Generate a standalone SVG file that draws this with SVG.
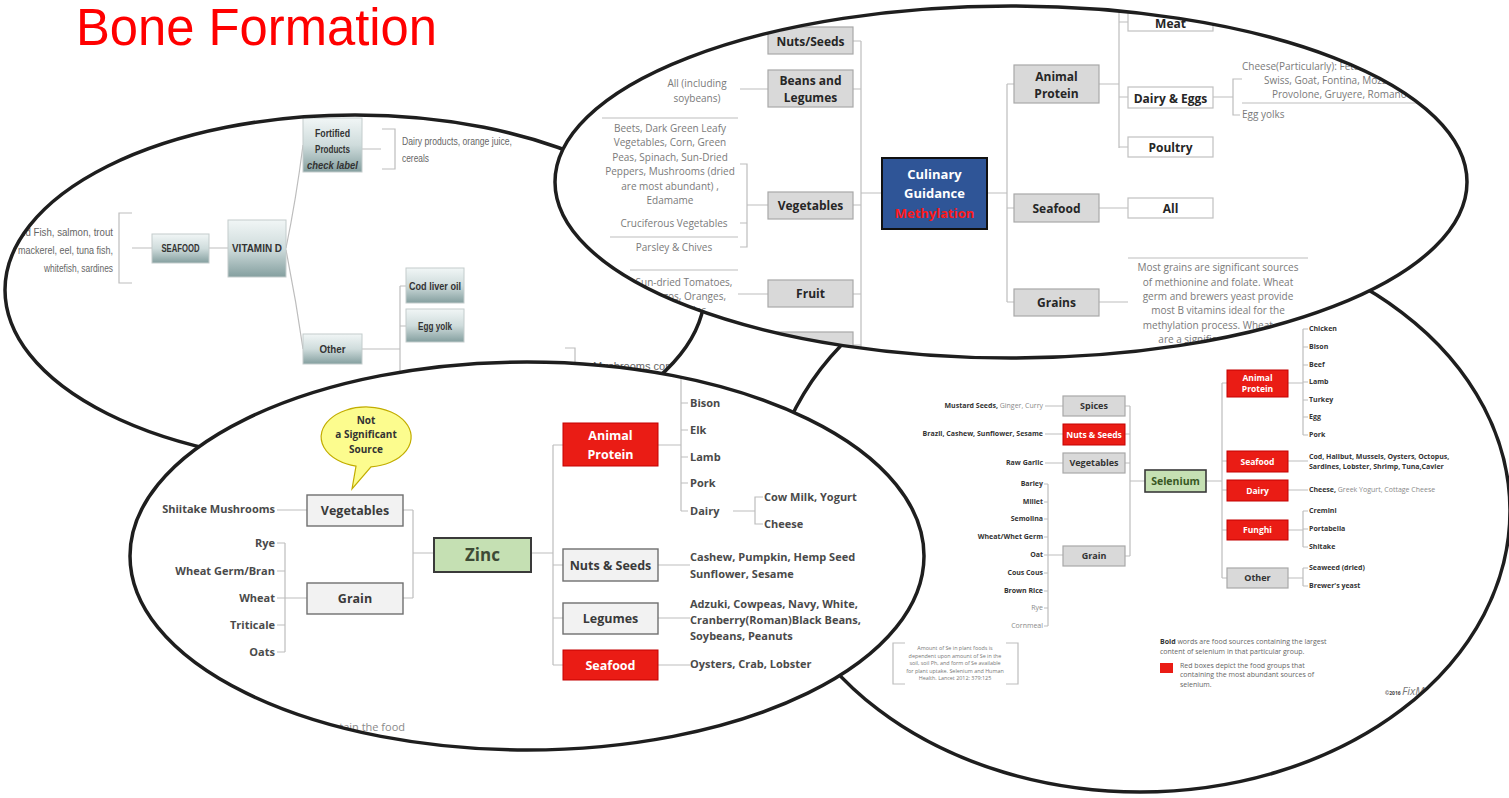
<svg xmlns="http://www.w3.org/2000/svg" width="1509" height="798" viewBox="0 0 1509 798">
<style>
  text{font-family:"Open Sans","Liberation Sans",sans-serif}
  .bg{fill:#fff}
  .rim{fill:none;stroke:#1e1e1e;stroke-width:3.5}
  .ln{fill:none;stroke:#bdbdbd;stroke-width:1.2}
  .tb{fill:url(#teal);stroke:#c3cccc;stroke-width:1}
  .vt{font-family:"Liberation Sans Narrow","Liberation Sans",sans-serif;font-weight:700;fill:#333;text-anchor:middle;font-size:11px}
  .vg{font-family:"Liberation Sans Narrow","Liberation Sans",sans-serif;fill:#666;font-size:11px}
  .gb{fill:#d9d9d9;stroke:#a8a8a8;stroke-width:1.2}
  .wb{fill:#fff;stroke:#c0c0c0;stroke-width:1.2}
  .bt{font-weight:700;fill:#262626;text-anchor:middle;font-size:12px}
  .gt{fill:#7a7a7a;font-size:10px;text-anchor:middle}
  .zb{fill:#f2f2f2;stroke:#6f6f6f;stroke-width:1.4}
  .rb{fill:#ea1c15;stroke:#c40000;stroke-width:1}
  .zt{font-weight:700;fill:#4a4a4a;font-size:11px}
  .zbt{font-weight:700;fill:#3a3a3a;font-size:12.5px;text-anchor:middle}
  .wt{font-weight:700;fill:#fff;text-anchor:middle}
  .st{font-weight:700;fill:#333;font-size:7px}
  .sg{fill:#8a8a8a;font-size:7px}
  .sbt{font-weight:700;fill:#333;text-anchor:middle;font-size:9px}
</style>
<defs>
  <linearGradient id="teal" x1="0" y1="0" x2="0" y2="1">
    <stop offset="0" stop-color="#f1f6f6"/>
    <stop offset="0.5" stop-color="#cfdcdc"/>
    <stop offset="1" stop-color="#849f9f"/>
  </linearGradient>
  <clipPath id="c1"><ellipse cx="355" cy="290" rx="350" ry="175"/></clipPath>
  <clipPath id="c2"><ellipse cx="1011" cy="182" rx="456" ry="176"/></clipPath>
  <clipPath id="c3"><ellipse cx="527" cy="556" rx="397" ry="194"/></clipPath>
  <clipPath id="c4"><ellipse cx="1140" cy="511" rx="370" ry="281"/></clipPath>
</defs>

<text id="title" x="76" y="45" font-size="51" fill="#ff0000" textLength="361" lengthAdjust="spacingAndGlyphs" style="font-family:'Liberation Sans',sans-serif">Bone Formation</text>

<!-- Vitamin D map -->
<g id="vitamin-d-map">
  <ellipse class="bg" cx="355" cy="290" rx="350" ry="175"/>
  <g clip-path="url(#c1)">
    <g id="vd-connectors" class="ln">
      <path d="M132,213H119V283H132M132,248H152M209,248H228M286,248Q296,200 303,145M286,250Q296,300 303,349M362,149H381M382,129H395V169H382M362,349H400M400,286V430M400,286H406M400,326H406M565,348H575V390"/>
    </g>
    <g id="vd-fish">
      <text class="vg" x="113" y="236" text-anchor="end" textLength="102" lengthAdjust="spacingAndGlyphs">Cold Fish, salmon, trout</text>
      <text class="vg" x="113" y="254" text-anchor="end" textLength="95" lengthAdjust="spacingAndGlyphs">mackerel, eel,  tuna fish,</text>
      <text class="vg" x="113" y="272" text-anchor="end" textLength="69" lengthAdjust="spacingAndGlyphs">whitefish, sardines</text>
    </g>
    <g id="vd-seafood"><rect class="tb" x="152" y="234" width="57" height="29"/><text class="vt" x="180.5" y="252" textLength="38" lengthAdjust="spacingAndGlyphs">SEAFOOD</text></g>
    <g id="vd-vitamin"><rect class="tb" x="228" y="220" width="58" height="57"/><text class="vt" x="257" y="252" textLength="50" lengthAdjust="spacingAndGlyphs">VITAMIN D</text></g>
    <g id="vd-fortified"><rect class="tb" x="303" y="118" width="59" height="54"/>
      <text class="vt" x="332.5" y="137" textLength="35" lengthAdjust="spacingAndGlyphs">Fortified</text>
      <text class="vt" x="332.5" y="153" textLength="35" lengthAdjust="spacingAndGlyphs">Products</text>
      <text class="vt" x="332.5" y="169" font-style="italic" textLength="51" lengthAdjust="spacingAndGlyphs">check label</text></g>
    <g id="vd-dairy"><text class="vg" x="402" y="145" textLength="110" lengthAdjust="spacingAndGlyphs">Dairy products, orange juice,</text><text class="vg" x="402" y="162" textLength="27" lengthAdjust="spacingAndGlyphs">cereals</text></g>
    <g id="vd-other"><rect class="tb" x="303" y="334" width="59" height="30"/><text class="vt" x="332.5" y="353" textLength="26" lengthAdjust="spacingAndGlyphs">Other</text></g>
    <g id="vd-cod"><rect class="tb" x="406" y="268" width="58" height="35"/><text class="vt" x="435" y="290" textLength="52" lengthAdjust="spacingAndGlyphs">Cod liver oil</text></g>
    <g id="vd-egg"><rect class="tb" x="406" y="309" width="58" height="33"/><text class="vt" x="435" y="330" textLength="34" lengthAdjust="spacingAndGlyphs">Egg yolk</text></g>
    <g id="vd-mushroom"><text class="vg" x="593" y="370">Mushrooms contain vitamin D</text></g>
  </g>
  <ellipse class="rim" cx="355" cy="290" rx="350" ry="175"/>
</g>

<!-- Selenium map -->
<g id="selenium-map">
  <ellipse class="bg" cx="1140" cy="511" rx="370" ry="281"/>
  <g clip-path="url(#c4)">
    <g id="se-connectors" class="ln">
      <path d="M1045,406H1063M1045,434H1063M1045,463H1063M1044,484H1048M1044,502H1048M1044,519H1048M1044,537H1048M1044,555H1048M1044,573H1048M1044,591H1048M1044,608H1048M1044,626H1048M1048,484V626M1048,555H1063"/>
      <path d="M1125,406H1130M1125,434H1130M1125,463H1130M1125,556H1130M1130,406V556M1130,481H1145"/>
      <path d="M1206,481H1222M1222,383V578M1222,383H1227M1222,461H1227M1222,490H1227M1222,530H1227M1222,578H1227"/>
      <path d="M1288,383H1303M1303,329V435M1303,329H1308M1303,347H1308M1303,365H1308M1303,382H1308M1303,400H1308M1303,417H1308M1303,435H1308"/>
      <path d="M1288,461H1308M1288,490H1308M1288,530H1303M1303,511V547M1303,511H1308M1303,529H1308M1303,547H1308M1288,578H1303M1303,568V586M1303,568H1308M1303,586H1308"/>
      <path d="M905,643H893V684H905M1006,643H1018V684H1006"/>
    </g>
    <g id="se-left-items" text-anchor="end">
      <text class="st" x="1043" y="408">Mustard Seeds,<tspan class="sg" style="font-weight:400"> Ginger, Curry</tspan></text>
      <text class="st" x="1043" y="436">Brazil, Cashew, Sunflower, Sesame</text>
      <text class="st" x="1043" y="465">Raw Garlic</text>
      <text class="st" x="1043" y="486">Barley</text>
      <text class="st" x="1043" y="504">Millet</text>
      <text class="st" x="1043" y="521">Semolina</text>
      <text class="st" x="1043" y="539">Wheat/Whet Germ</text>
      <text class="st" x="1043" y="557">Oat</text>
      <text class="st" x="1043" y="575">Cous Cous</text>
      <text class="st" x="1043" y="593">Brown Rice</text>
      <text class="sg" x="1043" y="610">Rye</text>
      <text class="sg" x="1043" y="628">Cornmeal</text>
    </g>
    <g id="se-spices"><rect class="gb" x="1063" y="396" width="62" height="20"/><text class="sbt" x="1094" y="409">Spices</text></g>
    <g id="se-nuts"><rect class="rb" x="1063" y="424" width="62" height="21"/><text class="wt" x="1094" y="438" font-size="8.5">Nuts &amp; Seeds</text></g>
    <g id="se-veg"><rect class="gb" x="1063" y="453" width="62" height="20"/><text class="sbt" x="1094" y="466">Vegetables</text></g>
    <g id="se-grain"><rect class="gb" x="1063" y="546" width="62" height="20"/><text class="sbt" x="1094" y="559">Grain</text></g>
    <g id="se-selenium"><rect x="1145" y="470" width="61" height="22" fill="#c5e0b3" stroke="#3a3a3a" stroke-width="1.6"/><text x="1175.5" y="485" text-anchor="middle" font-weight="700" font-size="10.5" fill="#385723">Selenium</text></g>
    <g id="se-animal"><rect class="rb" x="1227" y="370" width="61" height="27"/><text class="wt" x="1257.5" y="381" font-size="8.5">Animal</text><text class="wt" x="1257.5" y="392" font-size="8.5">Protein</text></g>
    <g id="se-seafood"><rect class="rb" x="1227" y="451" width="61" height="21"/><text class="wt" x="1257.5" y="465" font-size="8.5">Seafood</text></g>
    <g id="se-dairy"><rect class="rb" x="1227" y="480" width="61" height="21"/><text class="wt" x="1257.5" y="494" font-size="8.5">Dairy</text></g>
    <g id="se-funghi"><rect class="rb" x="1227" y="520" width="61" height="20"/><text class="wt" x="1257.5" y="533" font-size="8.5">Funghi</text></g>
    <g id="se-other"><rect class="gb" x="1227" y="568" width="61" height="20"/><text class="sbt" x="1257.5" y="581" font-size="8.5">Other</text></g>
    <g id="se-right-items">
      <text class="st" x="1309" y="331">Chicken</text>
      <text class="st" x="1309" y="349">Bison</text>
      <text class="st" x="1309" y="367">Beef</text>
      <text class="st" x="1309" y="384">Lamb</text>
      <text class="st" x="1309" y="402">Turkey</text>
      <text class="st" x="1309" y="419">Egg</text>
      <text class="st" x="1309" y="437">Pork</text>
      <text class="st" x="1309" y="459">Cod, Halibut, Mussels, Oysters, Octopus,</text>
      <text class="st" x="1309" y="469">Sardines, Lobster, Shrimp, Tuna,Cavier</text>
      <text class="st" x="1309" y="492">Cheese,<tspan class="sg" style="font-weight:400"> Greek Yogurt, Cottage Cheese</tspan></text>
      <text class="st" x="1309" y="513">Cremini</text>
      <text class="st" x="1309" y="531">Portabella</text>
      <text class="st" x="1309" y="549">Shitake</text>
      <text class="st" x="1309" y="570">Seaweed (dried)</text>
      <text class="st" x="1309" y="588">Brewer's yeast</text>
    </g>
    <g id="se-note" fill="#777" font-size="5.4" text-anchor="middle">
      <text x="955" y="650">Amount of Se in plant foods is</text>
      <text x="955" y="657.5">dependent upon amount of Se in the</text>
      <text x="955" y="665">soil, soil Ph, and form of Se available</text>
      <text x="955" y="672.5">for plant uptake. Selenium and Human</text>
      <text x="955" y="680">Health. Lancet 2012: 379:125</text>
    </g>
    <g id="se-legend" fill="#666" font-size="7">
      <text x="1160" y="644"><tspan font-weight="700" fill="#333">Bold</tspan> words are food sources containing the largest</text>
      <text x="1160" y="654">content of selenium in that particular group.</text>
      <rect x="1160" y="663" width="13" height="10" fill="#ea1c15"/>
      <text x="1180" y="668">Red boxes depict the food groups that</text>
      <text x="1180" y="677">containing the most abundant sources of</text>
      <text x="1180" y="687">selenium.</text>
      <text x="1385" y="695" font-size="5" font-weight="700" fill="#444">©2016 <tspan font-size="11" font-weight="400" font-style="italic" fill="#777">FixMed</tspan></text>
    </g>
  </g>
  <ellipse class="rim" cx="1140" cy="511" rx="370" ry="281"/>
</g>

<!-- Methylation map -->
<g id="methylation-map">
  <ellipse class="bg" cx="1011" cy="182" rx="456" ry="176"/>
  <g clip-path="url(#c2)">
    <g id="me-connectors" class="ln">
      <path d="M853,41H861M853,89H861M853,205H861M853,294H861M853,345H861M861,41V360M861,193H882"/>
      <path d="M740,89H768M602,118H738M610,237H738M630,270H738M740,164H747V247H740M740,223H747M747,205H768M738,294H768"/>
      <path d="M987,193H1007M1007,84V302M1007,84H1014M1007,208H1014M1007,302H1014"/>
      <path d="M1099,84H1119M1119,10V148M1119,22H1128M1119,97H1128M1119,147H1128M1099,208H1128M1099,302H1128M1128,258H1308"/>
      <path d="M1213,97H1233M1242,79H1233V115H1240M1242,103H1420"/>
    </g>
    <g id="me-nuts"><rect class="gb" x="768" y="27" width="85" height="27"/><text class="bt" x="810.5" y="46">Nuts/Seeds</text></g>
    <g id="me-beans"><rect class="gb" x="768" y="70" width="85" height="37"/><text class="bt" x="810.5" y="85">Beans and</text><text class="bt" x="810.5" y="102">Legumes</text></g>
    <g id="me-veg"><rect class="gb" x="768" y="192" width="85" height="27"/><text class="bt" x="810.5" y="210">Vegetables</text></g>
    <g id="me-fruit"><rect class="gb" x="768" y="280" width="85" height="27"/><text class="bt" x="810.5" y="298">Fruit</text></g>
    <g id="me-spices"><rect class="gb" x="768" y="332" width="85" height="27"/><text class="bt" x="810.5" y="351">Spices</text></g>
    <g id="me-left-text">
      <text class="gt" x="697" y="87">All (including</text>
      <text class="gt" x="697" y="102">soybeans)</text>
      <text class="gt" x="670" y="132">Beets, Dark Green Leafy</text>
      <text class="gt" x="670" y="146">Vegetables, Corn, Green</text>
      <text class="gt" x="670" y="161">Peas, Spinach, Sun-Dried</text>
      <text class="gt" x="670" y="175">Peppers, Mushrooms (dried</text>
      <text class="gt" x="670" y="190">are most abundant) ,</text>
      <text class="gt" x="670" y="204">Edamame</text>
      <text class="gt" x="674" y="227">Cruciferous Vegetables</text>
      <text class="gt" x="674" y="251">Parsley &amp; Chives</text>
      <text class="gt" x="684" y="286">Sun-dried Tomatoes,</text>
      <text class="gt" x="684" y="300">Mangos, Oranges,</text>
      <text class="gt" x="684" y="314">Avocados</text>
    </g>
    <g id="me-center"><rect x="882" y="158" width="105" height="71" fill="#2f5597" stroke="#111" stroke-width="2"/>
      <text x="934.5" y="179" text-anchor="middle" font-weight="700" font-size="13" fill="#fff">Culinary</text>
      <text x="934.5" y="198" text-anchor="middle" font-weight="700" font-size="13" fill="#fff">Guidance</text>
      <text x="934.5" y="218" text-anchor="middle" font-weight="700" font-size="13" fill="#ff1a1a">Methylation</text></g>
    <g id="me-animal"><rect class="gb" x="1014" y="65" width="85" height="38"/><text class="bt" x="1056.5" y="81">Animal</text><text class="bt" x="1056.5" y="98">Protein</text></g>
    <g id="me-seafood"><rect class="gb" x="1014" y="194" width="85" height="28"/><text class="bt" x="1056.5" y="213">Seafood</text></g>
    <g id="me-grains"><rect class="gb" x="1014" y="289" width="85" height="27"/><text class="bt" x="1056.5" y="307">Grains</text></g>
    <g id="me-meat"><rect class="wb" x="1128" y="10" width="85" height="21"/><text class="bt" x="1170.5" y="28">Meat</text></g>
    <g id="me-dairy"><rect class="wb" x="1128" y="87" width="85" height="21"/><text class="bt" x="1170.5" y="103">Dairy &amp; Eggs</text></g>
    <g id="me-poultry"><rect class="wb" x="1128" y="137" width="85" height="20"/><text class="bt" x="1170.5" y="152">Poultry</text></g>
    <g id="me-all"><rect class="wb" x="1128" y="198" width="85" height="20"/><text class="bt" x="1170.5" y="213">All</text></g>
    <g id="me-cheese" fill="#7a7a7a" font-size="10">
      <text x="1242" y="70">Cheese(Particularly): Feta,</text>
      <text x="1264" y="84">Swiss, Goat, Fontina, Mozzarella,</text>
      <text x="1272" y="98">Provolone, Gruyere, Romano</text>
      <text x="1242" y="118">Egg yolks</text>
    </g>
    <g id="me-grain-note">
      <text class="gt" x="1218" y="271">Most grains are significant sources</text>
      <text class="gt" x="1218" y="286">of methionine and folate. Wheat</text>
      <text class="gt" x="1218" y="300">germ and brewers yeast provide</text>
      <text class="gt" x="1218" y="314">most B vitamins ideal for the</text>
      <text class="gt" x="1218" y="329">methylation process. Wheat and</text>
      <text class="gt" x="1218" y="343">are a significant source of</text>
    </g>
  </g>
  <ellipse class="rim" cx="1011" cy="182" rx="456" ry="176"/>
</g>

<!-- Zinc map -->
<g id="zinc-map">
  <ellipse class="bg" cx="527" cy="556" rx="397" ry="194"/>
  <g clip-path="url(#c3)">
    <g id="zn-connectors" class="ln">
      <path d="M277,510H307M277,543H285M277,571H285M277,598H285M277,625H285M277,652H285M285,543V652M285,598H307"/>
      <path d="M403,510H413M403,598H413M413,510V598M413,553H434M531,553H553M553,445V665M553,445H563M553,565H563M553,618H563M553,665H563"/>
      <path d="M658,445H681M681,360V511M681,403H688M681,430H688M681,457H688M681,483H688M681,511H688M733,511H755M763,497H755V524H763"/>
      <path d="M658,565H690M658,618H690M658,665H690"/>
    </g>
    <g id="zn-bubble">
      <path d="M352,489L356,466.2A45,30 0 1 1 371,466.8Z" fill="#fcfc8e" stroke="#c2ad00" stroke-width="1.2"/>
      <text x="366" y="424" text-anchor="middle" font-weight="700" font-size="10" fill="#333">Not</text>
      <text x="366" y="438" text-anchor="middle" font-weight="700" font-size="10" fill="#333">a Significant</text>
      <text x="366" y="453" text-anchor="middle" font-weight="700" font-size="10" fill="#333">Source</text>
    </g>
    <g id="zn-left-items" text-anchor="end">
      <text class="zt" x="275" y="513">Shiitake Mushrooms</text>
      <text class="zt" x="275" y="547">Rye</text>
      <text class="zt" x="275" y="575">Wheat Germ/Bran</text>
      <text class="zt" x="275" y="602">Wheat</text>
      <text class="zt" x="275" y="629">Triticale</text>
      <text class="zt" x="275" y="656">Oats</text>
    </g>
    <g id="zn-veg"><rect class="zb" x="307" y="495" width="96" height="31"/><text class="zbt" x="355" y="515">Vegetables</text></g>
    <g id="zn-grain"><rect class="zb" x="307" y="583" width="96" height="31"/><text class="zbt" x="355" y="603" fill="#555">Grain</text></g>
    <g id="zn-zinc"><rect x="434" y="538" width="97" height="34" fill="#c5e0b3" stroke="#3a3a3a" stroke-width="2"/><text x="482.5" y="561" text-anchor="middle" font-weight="700" font-size="17" fill="#3d4a35">Zinc</text></g>
    <g id="zn-animal"><rect class="rb" x="563" y="423" width="95" height="43"/><text class="wt" x="610.5" y="440" font-size="12.5">Animal</text><text class="wt" x="610.5" y="459" font-size="12.5">Protein</text></g>
    <g id="zn-nuts"><rect class="zb" x="563" y="549" width="95" height="32"/><text class="zbt" x="610.5" y="570">Nuts &amp; Seeds</text></g>
    <g id="zn-legumes"><rect class="zb" x="563" y="603" width="95" height="31"/><text class="zbt" x="610.5" y="623">Legumes</text></g>
    <g id="zn-seafood"><rect class="rb" x="563" y="650" width="95" height="30"/><text class="wt" x="610.5" y="670" font-size="12.5">Seafood</text></g>
    <g id="zn-right-items">
      <text class="zt" x="690" y="407">Bison</text>
      <text class="zt" x="690" y="434">Elk</text>
      <text class="zt" x="690" y="461">Lamb</text>
      <text class="zt" x="690" y="487">Pork</text>
      <text class="zt" x="690" y="515">Dairy</text>
      <text class="zt" x="764" y="501">Cow Milk, Yogurt</text>
      <text class="zt" x="764" y="528">Cheese</text>
      <text class="zt" x="690" y="561">Cashew, Pumpkin, Hemp Seed</text>
      <text class="zt" x="690" y="578">Sunflower, Sesame</text>
      <text class="zt" x="690" y="608">Adzuki, Cowpeas, Navy, White,</text>
      <text class="zt" x="690" y="624">Cranberry(Roman)Black Beans,</text>
      <text class="zt" x="690" y="640">Soybeans, Peanuts</text>
      <text class="zt" x="690" y="668">Oysters, Crab, Lobster</text>
    </g>
    <text id="zn-footnote" x="405" y="731" text-anchor="end" font-size="11" fill="#8a8a8a">Bold words contain the food</text>
  </g>
  <ellipse class="rim" cx="527" cy="556" rx="397" ry="194"/>
</g>
</svg>
